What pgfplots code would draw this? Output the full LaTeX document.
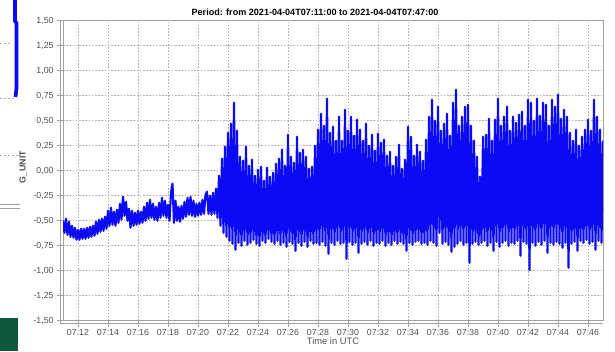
\documentclass[border=0pt]{standalone}
\usepackage{pgfplots}
\usepackage{pgfplotstable}
\pgfplotsset{compat=1.18}
\usepackage{fontspec}
\setmainfont{Liberation Sans}
\definecolor{gridgray}{RGB}{175,175,175}
\definecolor{framegray}{RGB}{160,160,160}
\definecolor{labelgray}{RGB}{80,80,80}
\definecolor{sigblue}{RGB}{10,10,245}
\definecolor{darkgreen}{RGB}{16,88,58}

\pgfplotstableread{
t v
11.0 -0.50
11.1 -0.62
11.2 -0.48
11.3 -0.64
11.4 -0.51
11.5 -0.66
11.6 -0.55
11.7 -0.67
11.8 -0.57
11.9 -0.69
12.0 -0.59
12.1 -0.69
12.2 -0.58
12.3 -0.68
12.4 -0.58
12.5 -0.68
12.6 -0.57
12.7 -0.67
12.8 -0.56
12.9 -0.66
13.0 -0.55
13.1 -0.65
13.2 -0.51
13.3 -0.63
13.4 -0.49
13.5 -0.61
13.6 -0.48
13.7 -0.60
13.8 -0.46
13.9 -0.58
14.0 -0.40
14.1 -0.55
14.2 -0.37
14.3 -0.54
14.4 -0.41
14.5 -0.55
14.6 -0.39
14.7 -0.52
14.8 -0.33
14.9 -0.49
15.0 -0.26
15.1 -0.45
15.2 -0.31
15.3 -0.50
15.4 -0.38
15.5 -0.57
15.6 -0.40
15.7 -0.55
15.8 -0.42
15.9 -0.54
16.0 -0.40
16.1 -0.53
16.2 -0.41
16.3 -0.52
16.4 -0.36
16.5 -0.50
16.6 -0.32
16.7 -0.48
16.8 -0.29
16.9 -0.47
17.0 -0.33
17.1 -0.49
17.2 -0.36
17.3 -0.50
17.4 -0.32
17.5 -0.47
17.6 -0.27
17.7 -0.45
17.8 -0.30
17.9 -0.47
18.0 -0.34
18.1 -0.50
18.2 -0.22
18.3 -0.13
18.4 -0.52
18.5 -0.30
18.6 -0.50
18.7 -0.36
18.8 -0.51
18.9 -0.35
19.0 -0.48
19.1 -0.31
19.2 -0.46
19.3 -0.27
19.4 -0.44
19.5 -0.26
19.6 -0.45
19.7 -0.30
19.8 -0.46
19.9 -0.33
20.0 -0.45
20.1 -0.32
20.2 -0.44
20.3 -0.29
20.4 -0.43
20.5 -0.24
20.6 -0.21
20.7 -0.43
20.8 -0.25
20.9 -0.44
21.0 -0.22
21.1 -0.43
21.2 -0.18
21.3 -0.47
21.4 -0.05
21.5 -0.55
21.6 0.12
21.7 -0.62
21.8 0.24
21.9 -0.66
22.0 0.38
22.1 -0.70
22.2 0.47
22.3 -0.73
22.4 0.68
22.5 -0.79
22.6 0.40
22.7 -0.72
22.8 0.14
22.9 -0.75
23.0 0.10
23.1 -0.70
23.2 0.24
23.3 -0.74
23.4 0.05
23.5 -0.72
23.6 0.11
23.7 -0.69
23.8 -0.05
23.9 -0.73
24.0 0.01
24.1 -0.75
24.2 0.04
24.3 -0.70
24.4 -0.10
24.5 -0.72
24.6 0.03
24.7 -0.68
24.8 -0.06
24.9 -0.71
25.0 -0.02
25.1 -0.73
25.2 0.07
25.3 -0.70
25.4 0.12
25.5 -0.74
25.6 0.21
25.7 -0.72
25.8 0.05
25.9 -0.76
26.0 0.36
26.1 -0.71
26.2 0.14
26.3 -0.73
26.4 0.08
26.5 -0.80
26.6 0.34
26.7 -0.72
26.8 0.18
26.9 -0.75
27.0 0.21
27.1 -0.71
27.2 0.14
27.3 -0.76
27.4 0.02
27.5 -0.70
27.6 0.04
27.7 -0.73
27.8 0.25
27.9 -0.72
28.0 0.41
28.1 -0.74
28.2 0.57
28.3 -0.71
28.4 0.45
28.5 -0.75
28.6 0.72
28.7 -0.83
28.8 0.38
28.9 -0.72
29.0 0.44
29.1 -0.74
29.2 0.30
29.3 -0.70
29.4 0.54
29.5 -0.73
29.6 0.30
29.7 -0.72
29.8 0.61
29.9 -0.88
30.0 0.40
30.1 -0.71
30.2 0.54
30.3 -0.74
30.4 0.35
30.5 -0.72
30.6 0.51
30.7 -0.82
30.8 0.41
30.9 -0.73
31.0 0.30
31.1 -0.71
31.2 0.47
31.3 -0.74
31.4 0.25
31.5 -0.70
31.6 0.36
31.7 -0.75
31.8 0.20
31.9 -0.72
32.0 0.37
32.1 -0.73
32.2 0.28
32.3 -0.70
32.4 0.31
32.5 -0.75
32.6 0.15
32.7 -0.72
32.8 0.19
32.9 -0.74
33.0 0.05
33.1 -0.70
33.2 0.14
33.3 -0.73
33.4 0.26
33.5 -0.71
33.6 0.02
33.7 -0.73
33.8 0.11
33.9 -0.80
34.0 0.44
34.1 -0.72
34.2 0.34
34.3 -0.74
34.4 0.15
34.5 -0.71
34.6 0.26
34.7 -0.70
34.8 0.19
34.9 -0.73
35.0 0.10
35.1 -0.72
35.2 0.31
35.3 -0.74
35.4 0.54
35.5 -0.70
35.6 0.71
35.7 -0.72
35.8 0.50
35.9 -0.75
36.0 0.64
36.1 -0.62
36.2 0.40
36.3 -0.73
36.4 0.47
36.5 -0.71
36.6 0.57
36.7 -0.74
36.8 0.35
36.9 -0.81
37.0 0.68
37.1 -0.76
37.2 0.81
37.3 -0.73
37.4 0.45
37.5 -0.70
37.6 0.54
37.7 -0.74
37.8 0.64
37.9 -0.72
38.0 0.66
38.1 -0.92
38.2 0.45
38.3 -0.73
38.4 0.30
38.5 -0.71
38.6 0.14
38.7 -0.74
38.8 -0.06
38.9 -0.72
39.0 0.34
39.1 -0.70
39.2 0.36
39.3 -0.75
39.4 0.52
39.5 -0.72
39.6 0.30
39.7 -0.80
39.8 0.51
39.9 -0.71
40.0 0.72
40.1 -0.76
40.2 0.45
40.3 -0.72
40.4 0.54
40.5 -0.70
40.6 0.64
40.7 -0.75
40.8 0.40
40.9 -0.72
41.0 0.54
41.1 -0.73
41.2 0.48
41.3 -0.70
41.4 0.56
41.5 -0.85
41.6 0.59
41.7 -0.71
41.8 0.45
41.9 -0.73
42.0 0.71
42.1 -0.99
42.2 0.68
42.3 -0.72
42.4 0.50
42.5 -0.75
42.6 0.72
42.7 -0.71
42.8 0.55
42.9 -0.74
43.0 0.68
43.1 -0.70
43.2 0.66
43.3 -0.82
43.4 0.45
43.5 -0.72
43.6 0.71
43.7 -0.74
43.8 0.64
43.9 -0.71
44.0 0.76
44.1 -0.73
44.2 0.52
44.3 -0.77
44.4 0.61
44.5 -0.72
44.6 0.54
44.7 -0.97
44.8 0.38
44.9 -0.73
45.0 0.30
45.1 -0.71
45.2 0.41
45.3 -0.80
45.4 0.25
45.5 -0.70
45.6 0.34
45.7 -0.72
45.8 0.41
45.9 -0.69
46.0 0.51
46.1 -0.73
46.2 0.40
46.3 -0.71
46.4 0.71
46.5 -0.79
46.6 0.54
46.7 -0.70
46.8 0.41
46.9 -0.72
47.0 0.30
}\signal

\pgfplotstableread{
x y
15 0
15 21
16.5 23
16.5 88
15.5 97
}\fragment

\begin{document}
\begin{tikzpicture}
\path[use as bounding box] (0,0) rectangle (461.25pt,263.25pt);
% left-edge remnants of a neighbouring panel
\begin{scope}[x=0.75pt,y=-0.75pt,shift={(0,263.25pt)}]
  \draw[gridgray,dash pattern=on 1.5pt off 1.5pt,line width=0.6pt] (0,43) -- (12,43);
  \draw[gridgray,dash pattern=on 1.5pt off 1.5pt,line width=0.6pt] (0,98) -- (16,98);
  \draw[gridgray,dash pattern=on 1.5pt off 1.5pt,line width=0.6pt] (0,155) -- (18,155);
  \draw[framegray,line width=0.6pt] (0,204.5) -- (20,204.5);
  \draw[framegray,line width=0.6pt] (0,208.5) -- (20,208.5);
  \fill[darkgreen] (0,318) rectangle (18,351);
\end{scope}
\begin{axis}[
  at={(0,263.25pt)}, anchor=north west,
  scale only axis, width=22.5pt, height=82.5pt,
  xmin=0, xmax=30, ymin=0, ymax=110, y dir=reverse,
  hide axis, clip=false]
  \addplot[sigblue, line width=2.8pt] table[x=x,y=y] {\fragment};
\end{axis}
\begin{axis}[
  at={(47.25pt,22.725pt)}, anchor=south west,
  scale only axis, width=405pt, height=225pt,
  xmin=11, xmax=47, ymin=-1.5, ymax=1.5,
  xtick={12,14,...,46},
  xticklabels={07:12,07:14,07:16,07:18,07:20,07:22,07:24,07:26,07:28,07:30,07:32,07:34,07:36,07:38,07:40,07:42,07:44,07:46},
  ytick={-1.5,-1.25,...,1.5},
  /pgf/number format/.cd, fixed, fixed zerofill, precision=2, use comma, assume math mode=true,
  /pgfplots/.cd,
  yticklabel={\pgfmathprintnumber{\tick}},
  grid=major,
  major grid style={gridgray, dash pattern=on 1.2pt off 1.2pt, line width=0.5pt},
  axis line style={framegray, line width=0.6pt},
  tick align=outside, major tick length=4.5pt,
  tick style={framegray, line width=0.5pt},
  xtick pos=bottom, ytick pos=left,
  tick label style={font=\fontsize{6.6}{7}\selectfont, text=labelgray},
  xticklabel style={yshift=1.5pt},
  yticklabel style={xshift=1pt},
  xlabel={Time in UTC},
  xlabel style={font=\fontsize{7}{8}\selectfont, text=labelgray, yshift=5pt},
  ylabel={\bfseries G\_UNIT},
  ylabel style={font=\fontsize{6.6}{7}\selectfont, text=labelgray, at={(rel axis cs:-0.074,0.512)}, anchor=center},
  title={\bfseries Period: from 2021-04-04T07:11:00 to 2021-04-04T07:47:00},
  title style={font=\fontsize{6.8}{7.5}\selectfont, at={(0.4667,1)}, anchor=south, inner sep=0pt, yshift=-2pt},
  clip=true,
]
  \addplot[sigblue, line width=1.6pt, line join=round] table[x=t,y=v] {\signal};
\end{axis}
% offset axis lines (double-line look of the original frame)
\draw[framegray,line width=0.6pt] (45pt,20.475pt) -- (45pt,247.725pt);
\draw[framegray,line width=0.6pt] (45pt,20.475pt) -- (452.25pt,20.475pt);
\end{tikzpicture}
\end{document}
